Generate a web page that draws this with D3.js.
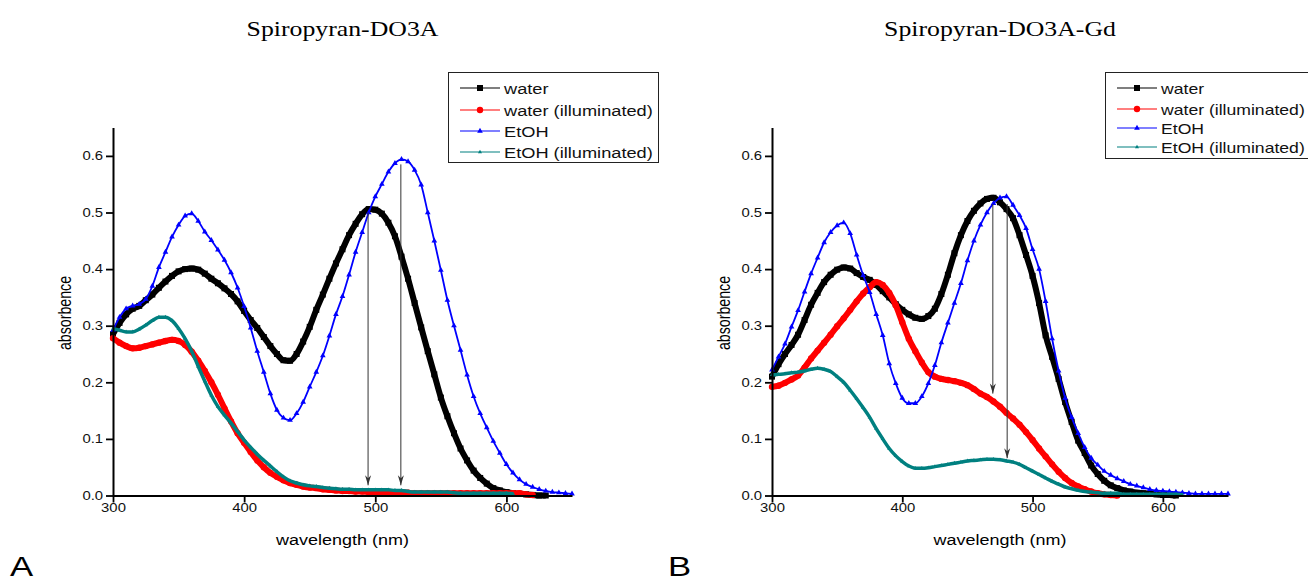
<!DOCTYPE html>
<html>
<head>
<meta charset="utf-8">
<script src="https://cdn.jsdelivr.net/npm/d3@7"></script>
<style>
  body { margin: 0; background: #fff; }
  svg { display: block; }
</style>
</head>
<body>
<script>
const W = 1308, H = 582;
const SX = 1.24; // the source figure is stretched horizontally

// x grid shared by every series (nm)
const wavelengths = d3.range(300, 651, 5);
const seriesNames = ['water', 'water (illuminated)', 'EtOH', 'EtOH (illuminated)'];
const seriesColors = ['#000000', '#ff0000', '#0000ff', '#008080'];
const yTicks = [0, 0.1, 0.2, 0.3, 0.4, 0.5, 0.6];
const xTicks = [300, 400, 500, 600];

// ---- A: Spiropyran-DO3A ----
const aWater = [0.285,0.305,0.32,0.33,0.335,0.345,0.355,0.367,0.378,0.388,0.396,0.400,0.401,0.399,0.392,0.383,0.375,0.366,0.356,0.343,
  0.326,0.31,0.296,0.28,0.264,0.25,0.239,0.238,0.25,0.272,0.298,0.328,0.355,0.383,0.41,0.435,0.46,0.48,0.497,0.506,
  0.505,0.498,0.482,0.458,0.422,0.383,0.34,0.297,0.255,0.214,0.173,0.14,0.11,0.083,0.062,0.044,0.031,0.021,0.013,0.009,
  0.006,0.004,0.003,0.002,0.001,0.0,0.0];
const aWaterIll = [0.278,0.27,0.264,0.26,0.261,0.264,0.267,0.27,0.273,0.275,0.273,0.266,0.254,0.238,0.22,0.2,0.178,0.154,0.131,0.11,
  0.093,0.077,0.062,0.05,0.04,0.033,0.027,0.022,0.019,0.016,0.014,0.013,0.011,0.01,0.009,0.008,0.008,0.007,0.007,0.006,
  0.006,0.006,0.006,0.006,0.006,0.005,0.004,0.004,0.004,0.004,0.004,0.004,0.004,0.004,0.004,0.004,0.004,0.004,0.004,0.004,
  0.004,0.004,0.004,0.002,0.001];
const aEtOH = [0.292,0.315,0.33,0.335,0.338,0.347,0.37,0.403,0.43,0.457,0.478,0.494,0.498,0.485,0.466,0.451,0.434,0.416,0.394,0.367,
  0.334,0.296,0.255,0.218,0.18,0.151,0.137,0.133,0.145,0.165,0.192,0.218,0.247,0.282,0.32,0.352,0.39,0.43,0.465,0.5,
  0.528,0.55,0.572,0.587,0.594,0.59,0.575,0.549,0.5,0.45,0.398,0.345,0.3,0.257,0.213,0.175,0.145,0.12,0.096,0.075,
  0.055,0.04,0.028,0.02,0.015,0.011,0.008,0.006,0.005,0.004,0.003];
const aEtOHIll = [0.295,0.292,0.289,0.289,0.294,0.301,0.309,0.315,0.315,0.309,0.295,0.277,0.255,0.228,0.202,0.177,0.157,0.142,0.128,0.113,
  0.098,0.085,0.073,0.062,0.052,0.042,0.033,0.026,0.022,0.019,0.017,0.016,0.014,0.013,0.012,0.011,0.011,0.01,0.01,0.01,
  0.01,0.01,0.01,0.009,0.009,0.007,0.006,0.006,0.006,0.006,0.006,0.006,0.005,0.004,0.004,0.004,0.004,0.004,0.004,0.004,
  0.004,0.003];
const aArrowX = [494.5, 519.5];
const aArrowTop = [0.50, 0.585];
const aArrowBottom = [0.018, 0.018];

// ---- B: Spiropyran-DO3A-Gd ----
const bWater = [0.21,0.232,0.25,0.266,0.284,0.31,0.337,0.358,0.377,0.39,0.399,0.403,0.401,0.393,0.386,0.381,0.372,0.361,0.35,0.338,
  0.328,0.32,0.314,0.312,0.317,0.33,0.356,0.39,0.428,0.46,0.485,0.503,0.516,0.524,0.526,0.518,0.506,0.49,0.46,0.425,
  0.388,0.34,0.283,0.245,0.206,0.165,0.13,0.097,0.075,0.053,0.038,0.026,0.018,0.013,0.009,0.007,0.005,0.004,0.003,0.002,
  0.001,0.001,0.0];
const bWaterIll = [0.192,0.194,0.199,0.205,0.212,0.226,0.242,0.256,0.27,0.284,0.299,0.313,0.328,0.343,0.357,0.368,0.377,0.372,0.358,0.336,
  0.306,0.277,0.255,0.235,0.218,0.21,0.206,0.204,0.202,0.199,0.195,0.188,0.18,0.174,0.166,0.157,0.146,0.136,0.125,0.112,
  0.098,0.083,0.069,0.055,0.042,0.031,0.022,0.016,0.011,0.007,0.004,0.002,0.001,0.0];
const bEtOH = [0.222,0.245,0.268,0.298,0.327,0.36,0.392,0.42,0.447,0.465,0.477,0.482,0.463,0.425,0.389,0.359,0.32,0.283,0.233,0.198,
  0.172,0.163,0.163,0.175,0.198,0.23,0.27,0.305,0.34,0.375,0.415,0.45,0.478,0.5,0.516,0.526,0.528,0.513,0.495,0.472,
  0.435,0.4,0.343,0.277,0.22,0.172,0.138,0.11,0.085,0.066,0.054,0.043,0.036,0.03,0.025,0.02,0.017,0.014,0.011,0.009,
  0.008,0.007,0.006,0.005,0.004,0.003,0.003,0.003,0.003,0.003,0.003];
const bEtOHIll = [0.213,0.214,0.215,0.217,0.218,0.22,0.223,0.225,0.223,0.219,0.21,0.2,0.186,0.171,0.155,0.138,0.118,0.1,0.083,0.07,
  0.06,0.052,0.048,0.048,0.049,0.051,0.053,0.055,0.057,0.059,0.061,0.062,0.063,0.064,0.064,0.063,0.061,0.059,0.055,0.049,
  0.043,0.037,0.031,0.025,0.02,0.015,0.012,0.009,0.007,0.006,0.005,0.004,0.004,0.004,0.002,0.002,0.002,0.002,0.002,0.002,
  0.002,0.002,0.002,0.001];
const bArrowX = [469.5, 480.5];
const bArrowTop = [0.515, 0.515];
const bArrowBottom = [0.18, 0.066];

const panels = [
  { title: 'Spiropyran-DO3A', letter: 'A', x0: 113, x1: 572, letterX: 10,
    series: [aWater, aWaterIll, aEtOH, aEtOHIll],
    arrows: { x: aArrowX, top: aArrowTop, bottom: aArrowBottom },
    legend: { x: 448, y: 72, w: 210, h: 90, rows: [88, 110, 131, 152], font: 14.7 } },
  { title: 'Spiropyran-DO3A-Gd', letter: 'B', x0: 772, x1: 1228, letterX: 668,
    series: [bWater, bWaterIll, bEtOH, bEtOHIll],
    arrows: { x: bArrowX, top: bArrowTop, bottom: bArrowBottom },
    legend: { x: 1105, y: 72, w: 220, h: 86, rows: [88, 109, 128, 147], font: 14.2 } }
];

const svg = d3.select('body').append('svg').attr('width', W).attr('height', H);

const y = d3.scaleLinear().domain([0, 0.65]).range([495.5, 127.6]);

const symbols = [
  d3.symbol().type(d3.symbolSquare).size(36),
  d3.symbol().type(d3.symbolCircle).size(32),
  d3.symbol().type(d3.symbolTriangle).size(14),
  d3.symbol().type(d3.symbolTriangle2).size(12)
];
const lineWidths = [6, 6, 1.8, 3.5];

function stretched(g, x, yy, rot) {
  return g.append('text')
    .attr('transform', `translate(${x},${yy}) scale(${SX},1)` + (rot ? ` rotate(${rot})` : ''));
}

panels.forEach(p => {
  const x = d3.scaleLinear().domain([300, 650]).range([p.x0, p.x1]);
  const g = svg.append('g');

  // title
  stretched(g, (x(300) + x(650)) / 2, 36)
    .attr('text-anchor', 'middle')
    .style('font-family', '"Liberation Serif", "Times New Roman", serif')
    .style('font-size', '20.8px')
    .text(p.title);

  // panel letter
  stretched(g, p.letterX, 576)
    .style('font-family', '"Liberation Sans", Arial, sans-serif')
    .style('font-size', '28px')
    .text(p.letter);

  // curves
  p.series.forEach((vals, i) => {
    const pts = vals.map((v, j) => [wavelengths[j], v]);
    g.append('path')
      .datum(pts)
      .attr('fill', 'none')
      .attr('stroke', seriesColors[i])
      .attr('stroke-width', lineWidths[i])
      .attr('stroke-linejoin', 'round')
      .attr('d', d3.line().x(d => x(d[0])).y(d => y(d[1])).curve(d3.curveMonotoneX));
    g.append('g').selectAll('path')
      .data(pts)
      .join('path')
      .attr('transform', d => `translate(${x(d[0])},${y(d[1])})`)
      .attr('d', symbols[i])
      .attr('fill', seriesColors[i]);
  });

  // arrows
  p.arrows.x.forEach((ax, i) => {
    const px = x(ax), yb = y(p.arrows.bottom[i]);
    g.append('line')
      .attr('x1', px).attr('x2', px)
      .attr('y1', y(p.arrows.top[i])).attr('y2', yb)
      .attr('stroke', '#333').attr('stroke-width', 1);
    g.append('path')
      .attr('d', `M${px - 3},${yb - 10}L${px},${yb}L${px + 3},${yb - 10}L${px},${yb - 7}Z`)
      .attr('fill', '#333');
  });

  // axes
  const yAxis = g.append('g')
    .attr('transform', `translate(${p.x0},0)`)
    .call(d3.axisLeft(y).tickValues(yTicks).tickFormat(d3.format('.1f')).tickSize(7).tickSizeOuter(0).tickPadding(1));
  const xAxis = g.append('g')
    .attr('transform', `translate(0,${y(0)})`)
    .call(d3.axisBottom(x).tickValues(xTicks).tickSize(7).tickSizeOuter(0).tickPadding(1));
  [yAxis, xAxis].forEach(a => {
    a.select('.domain').attr('stroke', '#000').attr('stroke-width', 2);
    a.selectAll('.tick line').attr('stroke', '#000').attr('stroke-width', 1.8);
    a.selectAll('.tick text')
      .attr('transform', `scale(${SX},1)`)
      .attr('fill', '#111')
      .style('font-family', '"Liberation Sans", Arial, sans-serif')
      .style('font-size', '12px');
  });

  // axis titles
  stretched(g, (x(300) + x(650)) / 2, 545)
    .attr('text-anchor', 'middle')
    .style('font-family', '"Liberation Sans", Arial, sans-serif')
    .style('font-size', '14.5px')
    .text('wavelength (nm)');
  stretched(g, p.x0 - 42, 313, -90)
    .attr('text-anchor', 'middle')
    .style('font-family', '"Liberation Sans", Arial, sans-serif')
    .style('font-size', '14.2px')
    .text('absorbence');

  // legend
  const L = p.legend;
  const lg = g.append('g');
  lg.append('rect')
    .attr('x', L.x + 0.5).attr('y', L.y + 0.5)
    .attr('width', L.w).attr('height', L.h)
    .attr('fill', '#fff').attr('stroke', '#222').attr('stroke-width', 1);
  seriesNames.forEach((name, i) => {
    const ry = L.rows[i];
    lg.append('line')
      .attr('x1', L.x + 12).attr('x2', L.x + 52)
      .attr('y1', ry).attr('y2', ry)
      .attr('stroke', seriesColors[i]).attr('stroke-width', 1.2);
    lg.append('path')
      .attr('transform', `translate(${L.x + 32},${ry})`)
      .attr('d', symbols[i])
      .attr('fill', seriesColors[i]);
    stretched(lg, L.x + 56, ry + 5.5)
      .style('font-family', '"Liberation Sans", Arial, sans-serif')
      .style('font-size', L.font + 'px')
      .attr('fill', '#111')
      .text(name);
  });
});
</script>
</body>
</html>
